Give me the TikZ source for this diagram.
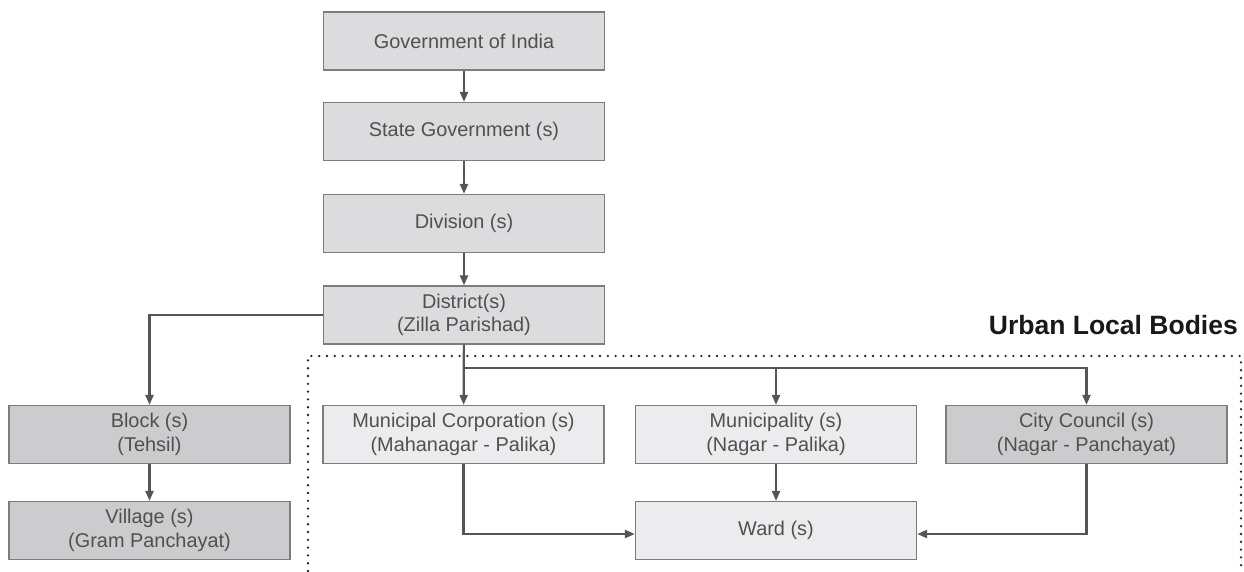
\documentclass[tikz,border=0pt]{standalone}
\usepackage{fontspec}
\setmainfont{Liberation Sans}
\usetikzlibrary{arrows.meta,calc}
\definecolor{fillmid}{RGB}{220,220,222}
\definecolor{filldark}{RGB}{204,204,206}
\definecolor{filllight}{RGB}{236,236,238}
\definecolor{boxline}{RGB}{125,125,125}
\definecolor{textgrey}{RGB}{80,80,80}
\definecolor{linkgrey}{RGB}{85,85,85}
\begin{document}
\begin{tikzpicture}[x=1pt,y=-1pt,
  govbox/.style={draw=boxline,line width=1.3pt,rectangle,minimum width=281pt,minimum height=58pt,
    inner sep=0pt,align=center,text=textgrey,font=\fontsize{19.9}{23.5}\selectfont},
  midbox/.style={govbox,fill=fillmid},
  darkbox/.style={govbox,fill=filldark},
  lightbox/.style={govbox,fill=filllight},
  link/.style={draw=linkgrey,line width=2.2pt,-{Stealth[length=10pt,width=8pt,inset=0pt]}},
  zone/.style={draw=black!85,line width=2.6pt,dash pattern=on 0pt off 7.8pt,line cap=round}]
\useasboundingbox (0,0) rectangle (1244,571);

% central chain of government
\node[midbox] (goi) at (464,41) {Government of India};
\node[midbox] (state) at (464,131.5) {State Government (s)};
\node[midbox] (div) at (464,223.5) {Division (s)};
\node[midbox] (dist) at (464,315) {District(s)\\(Zilla Parishad)};

% rural branch
\node[darkbox] (block) at (149.5,434.5) {Block (s)\\(Tehsil)};
\node[darkbox] (village) at (149.5,530.5) {Village (s)\\(Gram Panchayat)};

% urban local bodies
\node[lightbox] (mc) at (463.5,434.5) {Municipal Corporation (s)\\(Mahanagar - Palika)};
\node[lightbox] (muni) at (776,434.5) {Municipality (s)\\(Nagar - Palika)};
\node[darkbox] (cc) at (1086.5,434.5) {City Council (s)\\(Nagar - Panchayat)};
\node[lightbox] (ward) at (776,530.5) {Ward (s)};

\node[anchor=south east,inner sep=0pt,text=black!90,font=\fontsize{26.5}{26.5}\selectfont\bfseries] (ulb) at (1238,335) {Urban Local Bodies};

% dotted frame around the urban bodies
\coordinate (zbl) at (308,571);
\coordinate (ztl) at (308,356);
\coordinate (ztr) at (1241,356);
\coordinate (zbr) at (1241,571);
\draw[zone] (zbl) -- (ztl) -- (ztr) -- (zbr);

% connectors
\draw[link] (goi) -- (state);
\draw[link] (state) -- (div);
\draw[link] (div) -- (dist);
\draw[link] (dist.west) -| (block.north);
\draw[link] (block) -- (village);
\draw[link] (dist) -- (mc);
\coordinate (busl) at (464,368);
\draw[link] (busl) -| (cc.north);
\draw[link] (muni.north |- busl) -- (muni.north);
\draw[link] (muni) -- (ward);
\draw[link] (mc.south) |- ([yshift=-3.5pt]ward.west);
\draw[link] (cc.south) |- ([yshift=-3.5pt]ward.east);
\end{tikzpicture}
\end{document}
